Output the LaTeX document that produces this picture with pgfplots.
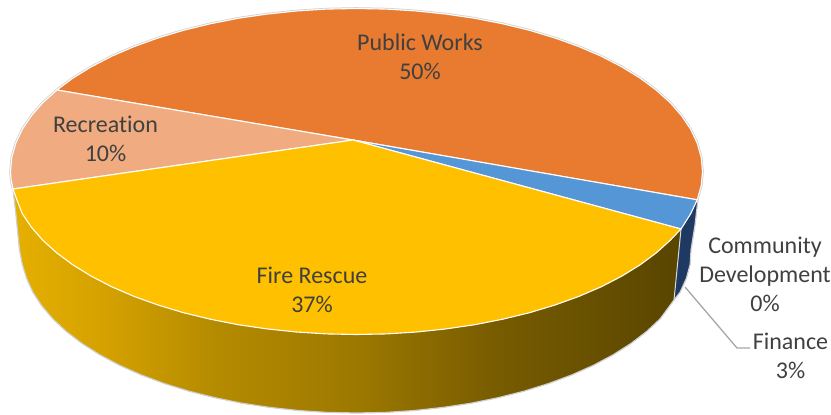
\documentclass[border=0pt]{standalone}
\usepackage{pgfplots}
\usepackage{fontspec}
\setmainfont[Ligatures=NoCommon]{Carlito}
\pgfplotsset{compat=1.18}
\definecolor{pubworks}{HTML}{E97B30}
\definecolor{recreation}{HTML}{F0AB80}
\definecolor{firerescue}{HTML}{FFC000}
\definecolor{finance}{HTML}{5596D6}
\definecolor{financeside}{HTML}{1E3A63}
\definecolor{labeltext}{HTML}{404040}
\definecolor{leader}{HTML}{A6A6A6}
\definecolor{rimline}{HTML}{CFCFCF}
% Shaded wall of the Fire Rescue slice, brightest on the left
\pgfdeclarehorizontalshading{goldwall}{100bp}{
  rgb(0bp)=(0.90,0.69,0);
  rgb(25bp)=(0.90,0.69,0);
  rgb(32bp)=(0.83,0.63,0);
  rgb(40bp)=(0.71,0.545,0);
  rgb(51bp)=(0.61,0.47,0);
  rgb(61bp)=(0.47,0.36,0);
  rgb(69bp)=(0.40,0.31,0);
  rgb(75bp)=(0.35,0.27,0);
  rgb(100bp)=(0.35,0.27,0)}
\begin{document}
\begin{tikzpicture}[x=1bp,y=1bp]
\useasboundingbox (0,0) rectangle (831,414);
\begin{axis}[
  at={(0,0)}, anchor=south west,
  width=831bp, height=414bp, scale only axis,
  xmin=0, xmax=831, ymin=0, ymax=414, y dir=reverse,
  hide axis, clip=false,
  every axis plot/.append style={line join=round, mark=none},
]
% Wall of the Fire Rescue slice
\addplot[draw=none, shade, shading=goldwall] coordinates {
 (13,189) (17,200) (22.3,213.7) (31.4,227.2) (42.9,240.4) (56.9,253.0) (73.1,265.0) (91.5,276.3)
 (111.8,286.8) (134.1,296.4) (158.0,305.0) (183.5,312.7) (210.3,319.2) (238.2,324.7) (267.0,328.9)
 (296.4,332.0) (326.3,333.9) (356.5,334.5) (386.7,333.9) (416.6,332.0) (446.0,328.9) (474.8,324.7)
 (502.7,319.2) (529.5,312.7) (555.0,305.0) (578.9,296.4) (601.2,286.8) (621.5,276.3) (639.9,265.0)
 (656.1,253.0) (670.1,240.4) (681,229)
 (674,300)
 (660.1,318.9) (646.6,331.5) (630.9,343.5) (613.1,354.8) (593.4,365.3) (571.8,374.9) (548.7,383.5)
 (524.0,391.2) (498.1,397.7) (471.1,403.2) (443.2,407.4) (414.7,410.5) (385.7,412.4) (356.5,413)
 (327.3,412.4) (298.3,410.5) (269.8,407.4) (241.9,403.2) (214.9,397.7) (189.0,391.2) (164.3,383.5)
 (141.2,374.9) (119.6,365.3) (99.9,354.8) (82.1,343.5) (66.4,331.5) (52.9,318.9) (41.7,305.7)
 (32.9,292.2) (26.6,278.3) (22.3,264.2) (19.5,250) (16,215)
} -- cycle;
% Wall of the Finance slice
\addplot[draw=none, fill=financeside] coordinates {
 (681,229) (690.7,213.7) (698,199) (695,225) (691,250) (690.2,264.2) (686.4,278.3) (680.1,292.2) (674,300)
} -- cycle;
% Outline of the wall
\addplot[draw=rimline, line width=1.2pt] coordinates {
 (13,189) (16,215) (19.5,250) (22.3,264.2) (26.6,278.3) (32.9,292.2) (41.7,305.7) (52.9,318.9)
 (66.4,331.5) (82.1,343.5) (99.9,354.8) (119.6,365.3) (141.2,374.9) (164.3,383.5) (189.0,391.2)
 (214.9,397.7) (241.9,403.2) (269.8,407.4) (298.3,410.5) (327.3,412.4) (356.5,413) (385.7,412.4)
 (414.7,410.5) (443.2,407.4) (471.1,403.2) (498.1,397.7) (524.0,391.2) (548.7,383.5) (571.8,374.9)
 (593.4,365.3) (613.1,354.8) (630.9,343.5) (646.6,331.5) (660.1,318.9) (674,300) (680.1,292.2)
 (686.4,278.3) (690.2,264.2) (691,250) (695,225) (698,199)
};
% Seam between the two walls
\addplot[draw=white!85!black, line width=1pt] coordinates {(681,229) (674,300)};
% Grey rim round the back of the top face
\addplot[draw=rimline, line width=2.6pt] coordinates {
 (13,189) (11.2,180) (10.5,171.5) (11.8,157.3) (15.8,143.2) (22.3,129.3) (31.4,115.8)
 (42.9,102.6) (56.9,90.0) (73.1,78.0) (91.5,66.7) (111.8,56.2) (134.1,46.6) (158.0,38.0) (183.5,30.3)
 (210.3,23.8) (238.2,18.3) (267.0,14.1) (296.4,11.0) (326.3,9.1) (356.5,8.5) (386.7,9.1) (416.6,11.0)
 (446.0,14.1) (474.8,18.3) (502.7,23.8) (529.5,30.3) (555.0,38.0) (578.9,46.6) (601.2,56.2)
 (621.5,66.7) (639.9,78.0) (656.1,90.0) (670.1,102.6) (681.6,115.8) (690.7,129.3) (697.2,143.2)
 (701.2,157.3) (702.5,171.5) (701.2,185.7) (697.2,199.8)
};
% Top face: Public Works
\addplot[fill=pubworks, draw=white, line width=1.1pt] coordinates {
 (353,140) (56.9,90.0) (73.1,78.0) (91.5,66.7) (111.8,56.2) (134.1,46.6) (158.0,38.0) (183.5,30.3)
 (210.3,23.8) (238.2,18.3) (267.0,14.1) (296.4,11.0) (326.3,9.1) (356.5,8.5) (386.7,9.1) (416.6,11.0)
 (446.0,14.1) (474.8,18.3) (502.7,23.8) (529.5,30.3) (555.0,38.0) (578.9,46.6) (601.2,56.2)
 (621.5,66.7) (639.9,78.0) (656.1,90.0) (670.1,102.6) (681.6,115.8) (690.7,129.3) (697.2,143.2)
 (701.2,157.3) (702.5,171.5) (701.2,185.7) (697.2,199.8)
} -- cycle;
% Top face: Recreation
\addplot[fill=recreation, draw=white, line width=1.1pt] coordinates {
 (353,140) (13,189) (11.2,180) (10.5,171.5) (11.8,157.3) (15.8,143.2) (22.3,129.3) (31.4,115.8)
 (42.9,102.6) (56.9,90.0)
} -- cycle;
% Top face: Finance
\addplot[fill=finance, draw=white, line width=1.1pt] coordinates {
 (353,140) (697.2,199.8) (690.7,213.7) (681,229)
} -- cycle;
% Top face: Fire Rescue
\addplot[fill=firerescue, draw=white, line width=1.1pt] coordinates {
 (353,140) (681,229) (670.1,240.4) (656.1,253.0) (639.9,265.0) (621.5,276.3) (601.2,286.8) (578.9,296.4)
 (555.0,305.0) (529.5,312.7) (502.7,319.2) (474.8,324.7) (446.0,328.9) (416.6,332.0) (386.7,333.9)
 (356.5,334.5) (326.3,333.9) (296.4,332.0) (267.0,328.9) (238.2,324.7) (210.3,319.2) (183.5,312.7)
 (158.0,305.0) (134.1,296.4) (111.8,286.8) (91.5,276.3) (73.1,265.0) (56.9,253.0) (42.9,240.4)
 (31.4,227.2) (22.3,213.7) (17,200) (13,189)
} -- cycle;
% Leader line to the Finance label
\addplot[draw=leader, line width=1.3pt] coordinates {(685,287) (737,348) (750,348)};
% Slice labels
\tikzset{slicelabel/.style={text=labeltext, align=center, inner sep=0pt,
  font=\fontsize{24bp}{29bp}\selectfont}}
\node[slicelabel] at (axis cs:420,56.5) {Public Works\\50\%};
\node[slicelabel] at (axis cs:105.5,139) {Recreation\\10\%};
\node[slicelabel] at (axis cs:312,290) {Fire Rescue\\37\%};
\node[slicelabel] at (axis cs:765,274) {Community\\Development\\0\%};
\node[slicelabel] at (axis cs:790.5,355.5) {Finance\\3\%};
\end{axis}
\end{tikzpicture}
\end{document}
